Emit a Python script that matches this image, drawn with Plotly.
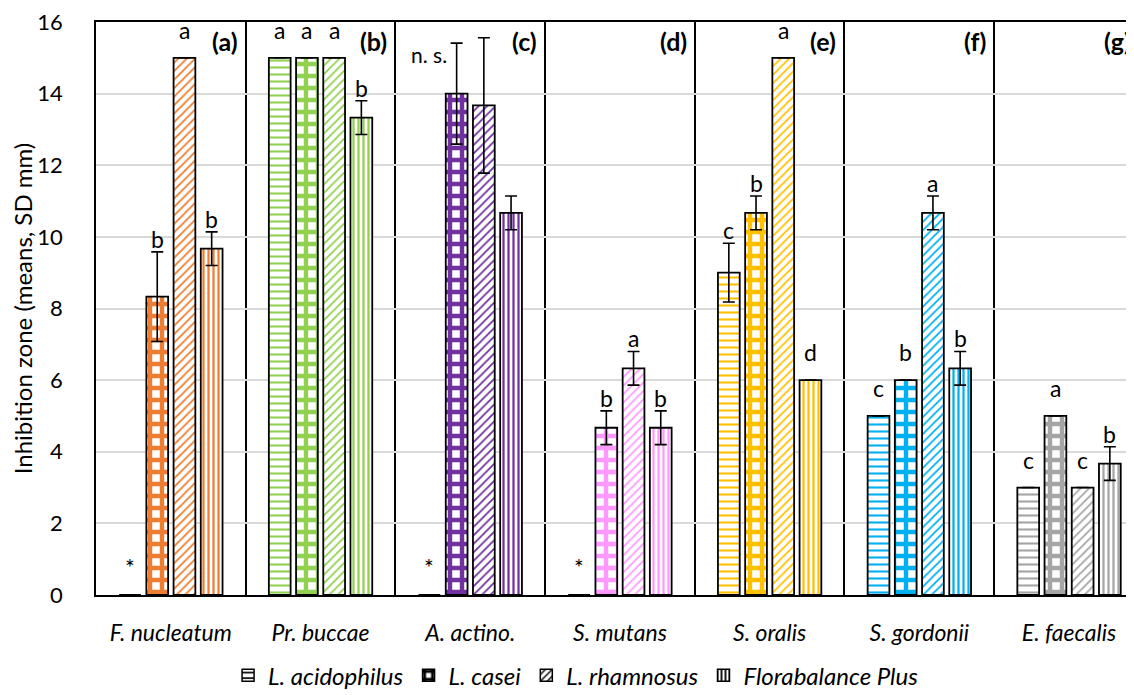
import plotly.graph_objects as go

categories = ["F. nucleatum", "Pr. buccae", "A. actino.", "S. mutans", "S. oralis", "S. gordonii", "E. faecalis"]
panel_tags = ["(a)", "(b)", "(c)", "(d)", "(e)", "(f)", "(g)"]
cat_colors = ["#ED7D31", "#92D050", "#7030A0", "#FF99FF", "#FFC000", "#00B0F0", "#A5A5A5"]

series_names = ["L. acidophilus", "L. casei", "L. rhamnosus", "Florabalance Plus"]
acidophilus = [0, 15, 0, 0, 9, 5, 3]
acidophilus_sd = [0, 0, 0, 0, 0.82, 0, 0]
casei = [8.33, 15, 14, 4.67, 10.67, 6, 5]
casei_sd = [1.25, 0, 1.41, 0.47, 0.47, 0, 0]
rhamnosus = [15, 15, 13.67, 6.33, 15, 10.67, 3]
rhamnosus_sd = [0, 0, 1.89, 0.47, 0, 0.47, 0]
flora = [9.67, 13.33, 10.67, 4.67, 6, 6.33, 3.67]
flora_sd = [0.47, 0.47, 0.47, 0.47, 0, 0.47, 0.47]

acidophilus_lbl = ["*", "a", "*", "*", "c", "c", "c"]
casei_lbl = ["b", "a", "", "b", "b", "b", "a"]
rhamnosus_lbl = ["a", "a", "", "a", "a", "a", "c"]
flora_lbl = ["b", "b", "", "b", "d", "b", "b"]
group_note = {"A. actino.": "n. s."}

values = [acidophilus, casei, rhamnosus, flora]
sds = [acidophilus_sd, casei_sd, rhamnosus_sd, flora_sd]
labels = [acidophilus_lbl, casei_lbl, rhamnosus_lbl, flora_lbl]
patterns = [
    dict(shape="-", size=7, solidity=0.3),
    dict(shape="+", size=12, solidity=0.6),
    dict(shape="/", size=6, solidity=0.3),
    dict(shape="|", size=5, solidity=0.45),
]

FONT = "Lato, 'Open Sans', sans-serif"
BARGAP = 0.273
XMIN, XMAX = -0.5, 6.434

fig = go.Figure()
for name, v, sd, pat in zip(series_names, values, sds, patterns):
    fig.add_trace(go.Bar(
        x=categories, y=v, name=name, showlegend=False,
        marker=dict(color="white", line=dict(color="black", width=1.8),
                    pattern=dict(fillmode="overlay", fgcolor=cat_colors, fgopacity=1, **pat)),
        error_y=dict(type="data", array=sd, visible=True, color="black", thickness=1.6, width=6),
    ))

# legend-only entries (black patterns), on hidden axes
for name, pat in zip(series_names, patterns):
    fig.add_trace(go.Bar(
        x=[None], y=[None], name=name, xaxis="x2", yaxis="y2",
        marker=dict(color="white", line=dict(color="black", width=1.5),
                    pattern=dict(fillmode="overlay", fgcolor="black", fgopacity=1, **pat)),
    ))

slot = (1 - BARGAP) / len(series_names)
annotations = []
for k, (v, sd, lb) in enumerate(zip(values, sds, labels)):
    off = (k - (len(series_names) - 1) / 2) * slot
    for i, cat in enumerate(categories):
        if not lb[i]:
            continue
        top = v[i] + sd[i]
        annotations.append(dict(
            x=i + off, y=top, xref="x", yref="y", text=lb[i], showarrow=False,
            yanchor="bottom", yshift=(12 if sd[i] == 0 else -3),
            font=dict(family=FONT, size=23, color="black")))

for i, cat in enumerate(categories):
    if cat in group_note:
        off0 = (0 - (len(series_names) - 1) / 2) * slot
        annotations.append(dict(
            x=i + off0, y=15.1, xref="x", yref="y", text=group_note[cat], showarrow=False,
            yanchor="middle", font=dict(family=FONT, size=21, color="black")))

span = XMAX - XMIN
for i, tag in enumerate(panel_tags):
    xp = min((i + 1) / span, 1.0)
    annotations.append(dict(
        x=xp, y=1, xref="paper", yref="paper", text="<b>" + tag + "</b>",
        showarrow=False, xanchor="right", yanchor="top", xshift=-6 if xp < 1 else -1, yshift=-2,
        font=dict(family=FONT, size=25, color="black")))

fig.update_layout(
    width=1126, height=687,
    margin=dict(l=88, r=0, t=14, b=100),
    paper_bgcolor="white", plot_bgcolor="white",
    barmode="group", bargap=BARGAP, bargroupgap=0.2,
    font=dict(family=FONT, color="black"),
    annotations=annotations,
    showlegend=True,
    legend=dict(orientation="h", xref="container", x=0.5045, xanchor="center",
                yref="container", y=0.028, yanchor="middle",
                font=dict(family=FONT, size=24, style="italic"),
                itemwidth=30, traceorder="normal"),
    xaxis=dict(type="category", range=[XMIN, XMAX], tickson="boundaries",
               showgrid=True, gridcolor="black", gridwidth=1.6,
               showline=True, linecolor="black", linewidth=1.8, mirror=True,
               ticks="", ticklabelstandoff=16,
               tickfont=dict(family=FONT, size=23, style="italic", color="black")),
    yaxis=dict(range=[0, 16], dtick=2, showgrid=True, gridcolor="#D9D9D9", gridwidth=1.5,
               showline=True, linecolor="black", linewidth=1.8, ticks="",
               ticklabelstandoff=27, zeroline=False, ticklabeloverflow="allow",
               tickfont=dict(family=FONT, size=22, color="black"),
               title=dict(text="Inhibition zone (means, SD mm)", standoff=10,
                          font=dict(family=FONT, size=24, color="black"))),
    xaxis2=dict(overlaying="x", visible=False),
    yaxis2=dict(overlaying="y", visible=False),
)

fig.write_html("out.html")
